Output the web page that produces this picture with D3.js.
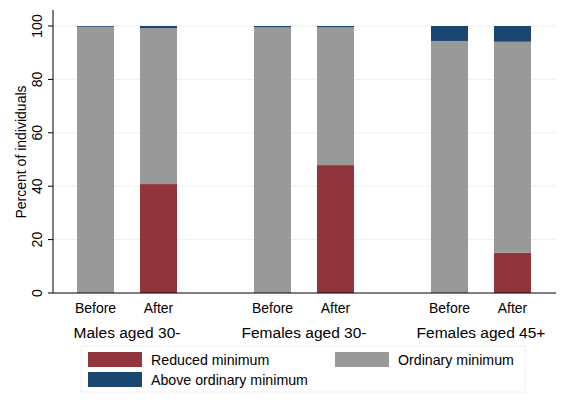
<!DOCTYPE html>
<html><head><meta charset="utf-8">
<script src="https://cdn.jsdelivr.net/npm/d3@7"></script>
<style>body{margin:0;background:#fff;} text{font-family:Arial,"Liberation Sans",sans-serif;}</style>
</head><body><svg id="c" width="572" height="408"></svg>
<script>
const groups = ["Males aged 30-", "Females aged 30-", "Females aged 45+"];
const periods = ["Before", "After"];
const seriesNames = ["Reduced minimum", "Ordinary minimum", "Above ordinary minimum"];
const reduced  = [0, 40.8, 0, 47.9, 0, 15.1];
const ordinary = [99.7, 58.4, 99.5, 51.6, 94.4, 79.0];
const above    = [0.3, 0.8, 0.5, 0.5, 5.6, 5.9];
const yTicks = [0, 20, 40, 60, 80, 100];
const colors = ["#90353b", "#999999", "#1a476f"];

const svg = d3.select("#c");
const y = d3.scaleLinear().domain([0, 100]).range([293, 26]);
const x0 = d3.scaleBand().domain(groups).range([38.5, 569.5]);
const x1 = d3.scalePoint().domain(periods).range([57, 120]);
const bw = 37;

// gridlines
svg.append("g").selectAll("line").data(yTicks.filter(d => d > 0)).join("line")
  .attr("x1", 53).attr("x2", 556).attr("y1", d => y(d)).attr("y2", d => y(d))
  .attr("stroke", "#eaf2f3").attr("stroke-width", 1);

const rows = [];
groups.forEach((g, gi) => periods.forEach((p, pi) => {
  const i = gi * 2 + pi;
  rows.push({g, p, vals: [reduced[i], ordinary[i], above[i]]});
}));

rows.forEach(r => {
  let base = 0;
  r.vals.forEach((v, k) => {
    if (v > 0) {
      svg.append("rect")
        .attr("x", x0(r.g) + x1(r.p) - bw / 2)
        .attr("y", y(base + v))
        .attr("width", bw)
        .attr("height", y(base) - y(base + v))
        .attr("fill", colors[k]);
    }
    base += v;
  });
});

// y axis
const yAxis = d3.axisLeft(y).tickValues(yTicks).tickSize(5).tickSizeOuter(0);
const ga = svg.append("g").attr("transform", "translate(53,0)").call(yAxis);
ga.select(".domain").attr("d", "M0,10V293").attr("stroke", "#000");
ga.selectAll(".tick").attr("transform", null);
ga.selectAll(".tick line").attr("stroke", "#000").attr("y1", d => y(d)).attr("y2", d => y(d));
ga.selectAll(".tick text").attr("font-size", 14).attr("fill", "#000")
  .attr("transform", "rotate(-90)").attr("text-anchor", "middle")
  .attr("x", d => -y(d)).attr("y", -11).attr("dy", "0").attr("dx", 0);

// x axis line
svg.append("line").attr("x1", 53).attr("x2", 556).attr("y1", 293).attr("y2", 293)
  .attr("stroke", "#000");

// y title
svg.append("text").attr("transform", "translate(26,152) rotate(-90)")
  .attr("text-anchor", "middle").attr("font-size", 14).attr("fill", "#000")
  .text("Percent of individuals");

// x labels
rows.forEach(r => {
  svg.append("text").attr("x", x0(r.g) + x1(r.p)).attr("y", 313)
    .attr("text-anchor", "middle").attr("font-size", 14).attr("fill", "#000").text(r.p);
});
groups.forEach(g => {
  svg.append("text").attr("x", x0(g) + (x1("Before") + x1("After")) / 2).attr("y", 338)
    .attr("text-anchor", "middle").attr("font-size", 15.5).attr("fill", "#000").text(g);
});

// legend
svg.append("rect").attr("x", 81).attr("y", 346).attr("width", 444).attr("height", 46)
  .attr("fill", "#fff").attr("stroke", "#f0f0f0");
const leg = [
  {i: 0, x: 88, y: 352},
  {i: 1, x: 335, y: 352},
  {i: 2, x: 88, y: 372}
];
leg.forEach(l => {
  svg.append("rect").attr("x", l.x).attr("y", l.y).attr("width", 54).attr("height", 15)
    .attr("fill", colors[l.i]);
  svg.append("text").attr("x", l.x + 63).attr("y", l.y + 12.5)
    .attr("font-size", 14.2).attr("fill", "#000").text(seriesNames[l.i]);
});
</script></body></html>
